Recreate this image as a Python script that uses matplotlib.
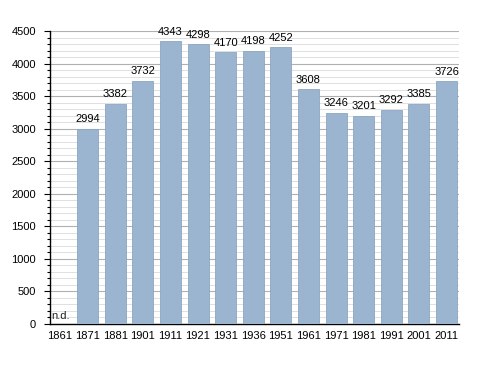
import numpy as np
import matplotlib.pyplot as plt
from matplotlib.ticker import MultipleLocator

plt.rcParams['font.family'] = ['Liberation Sans', 'DejaVu Sans']

years = ['1861', '1871', '1881', '1901', '1911', '1921', '1931', '1936',
         '1951', '1961', '1971', '1981', '1991', '2001', '2011']
population = [0, 2994, 3382, 3732, 4343, 4298, 4170, 4198,
              4252, 3608, 3246, 3201, 3292, 3385, 3726]

fig = plt.figure(figsize=(4.88, 3.73), dpi=100)
ax = fig.add_axes([50 / 488, 1 - 324 / 373, 409 / 488, 293 / 373])

x = np.arange(len(years))
vals = [v if v > 0 else np.nan for v in population]
ax.bar(x, vals, width=0.76, color='#9bb4cf', edgecolor='#8da6c1',
       linewidth=0.6, zorder=3)

for xi, v in zip(x, population):
    if v > 0:
        ax.text(xi, v + 70, str(v), ha='center', va='bottom', fontsize=8,
                color='black', zorder=4)
    else:
        ax.text(xi - 0.32, 40, 'n.d.', ha='left', va='bottom', fontsize=8,
                color='#222222', zorder=4)

ax.set_xlim(-0.36, 14.45)
ax.set_ylim(0, 4500)
ax.set_xticks(x)
ax.set_xticklabels(years, fontsize=8)
ax.tick_params(axis='x', length=0, pad=5)

ax.yaxis.set_major_locator(MultipleLocator(500))
ax.yaxis.set_minor_locator(MultipleLocator(100))
ax.tick_params(axis='y', which='major', labelsize=8, length=4, width=0.8,
               direction='out', pad=6)
ax.tick_params(axis='y', which='minor', length=2.5, width=0.8, direction='out')
ax.grid(axis='y', which='major', color='#b0b0b0', linewidth=0.8, zorder=0)
ax.grid(axis='y', which='minor', color='#e0e0e0', linewidth=0.7, zorder=0)

for s in ['top', 'right']:
    ax.spines[s].set_visible(False)
ax.spines['left'].set_linewidth(1.0)
ax.spines['bottom'].set_linewidth(1.0)

fig.savefig('out.png', dpi=100)
